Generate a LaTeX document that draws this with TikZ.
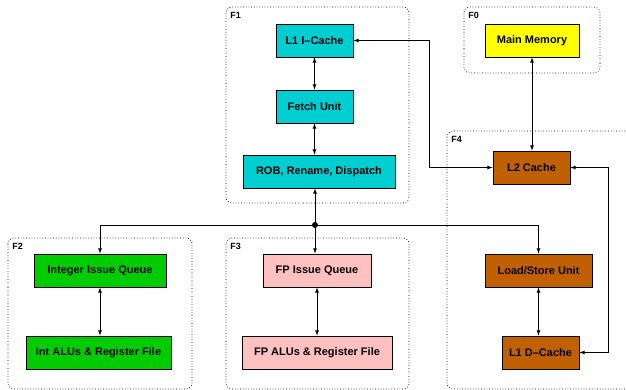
\documentclass[tikz,border=0pt]{standalone}
\usepackage{fontspec}
\setmainfont{Liberation Sans}
\usepackage{tikz}
\usetikzlibrary{arrows}
\usetikzlibrary{positioning}

\definecolor{fetchcyan}{RGB}{0,206,209}
\definecolor{intgreen}{RGB}{0,204,0}
\definecolor{fppink}{RGB}{255,192,192}
\definecolor{membrown}{RGB}{192,96,0}
\definecolor{memyellow}{RGB}{255,255,0}

\begin{document}
\begin{tikzpicture}[<->,>=latex,line width=0.8pt,x=1pt,y=-1pt]
    \tikzstyle{every node}=[font=\fontsize{11}{13}\selectfont\bfseries]
    \tikzstyle{unit}=[rectangle, draw, minimum height=33pt, inner sep=0pt]
    \tikzstyle{frame}=[-, draw, line width=0.7pt, dotted, rounded corners=6pt]
    \tikzstyle{tag}=[anchor=north west, inner sep=0pt, font=\fontsize{9}{10}\selectfont\bfseries]
    \useasboundingbox (0,0) rectangle (626,390);

    % frames
    \draw[frame] (226,7) rectangle (409,203);
    \draw[frame] (464,7) rectangle (600,73);
    \draw[frame] (8,238) rectangle (192,389);
    \draw[frame] (226,238) rectangle (409,389);
    \draw[frame] (447,131) rectangle (640,389);
    \node[tag] (f1) at (230,12) {F1};
    \node[tag] (f0) at (468,12) {F0};
    \node[tag] (f2) at (12,243) {F2};
    \node[tag] (f3) at (230,243) {F3};
    \node[tag] (f4) at (451,136) {F4};

    % units
    \node[unit, fill=fetchcyan, minimum width=77pt] (icache) at (314.5,40.5) {L1 I--Cache};
    \node[unit, fill=fetchcyan, minimum width=77pt] (fetch) at (314.5,106.5) {Fetch Unit};
    \node[unit, fill=fetchcyan, minimum width=152pt] (rob) at (319,171.5) {ROB, Rename, Dispatch};
    \node[unit, fill=memyellow, minimum width=94pt] (memory) at (532,40.5) {Main Memory};
    \node[unit, fill=membrown, minimum width=77pt] (l2) at (531.5,167.5) {L2 Cache};
    \node[unit, fill=intgreen, minimum width=132pt] (intiq) at (100,270.5) {Integer Issue Queue};
    \node[unit, fill=intgreen, minimum width=145pt] (intalu) at (98.5,352.5) {Int ALUs \& Register File};
    \node[unit, fill=fppink, minimum width=108pt] (fpiq) at (317,270.5) {FP Issue Queue};
    \node[unit, fill=fppink, minimum width=150pt] (fpalu) at (317,352.5) {FP ALUs \& Register File};
    \node[unit, fill=membrown, minimum width=107pt] (lsu) at (538.5,270.5) {Load/Store Unit};
    \node[unit, fill=membrown, minimum width=77pt] (dcache) at (540.5,352.5) {L1 D--Cache};

    \coordinate (bus) at (315,225);
    \coordinate (ibend) at (429,40.5);
    \coordinate (dbend) at (608,167.5);
    \fill (bus) circle (3pt);

    \draw (icache) -- (fetch);
    \draw (fetch) -- (fetch |- rob.north);
    \draw[<-] (rob.south -| bus) -- (bus);
    \draw[->] (bus) -- (bus |- fpiq.north);
    \draw[->] (bus) -| (intiq);
    \draw[->] (bus) -| (lsu);
    \draw (intiq) -- (intiq |- intalu.north);
    \draw (fpiq) -- (fpalu);
    \draw (lsu) -- (lsu |- dcache.north);
    \draw (memory) -- (memory |- l2.north);
    \draw (icache.east) -- (ibend) |- (l2.west);
    \draw (l2.east) -- (dbend) |- (dcache.east);
\end{tikzpicture}
\end{document}
